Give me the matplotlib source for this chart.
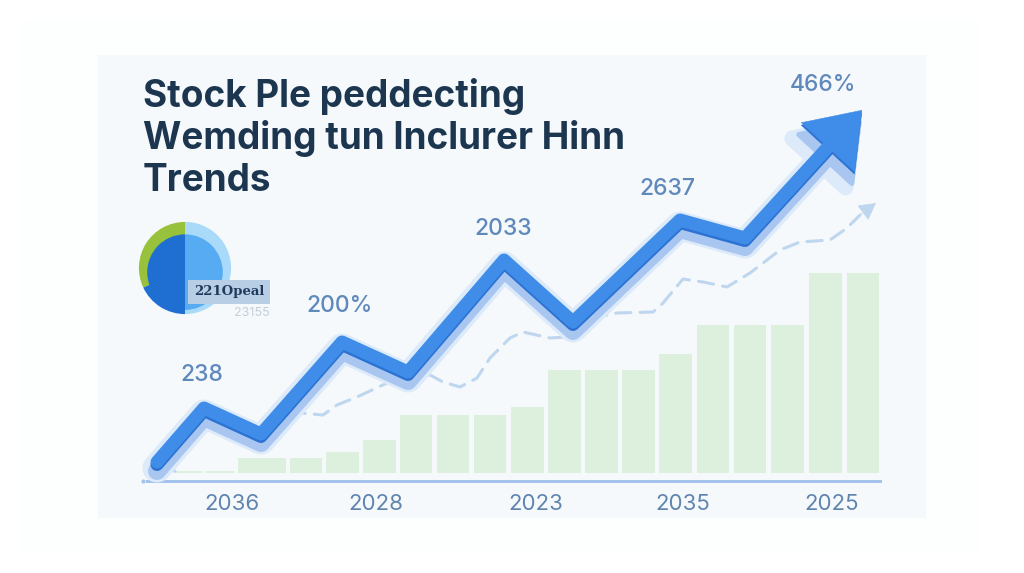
"""Stock trend mock-up: rising arrow line over pale bars, small donut and labels."""

import matplotlib

matplotlib.use("Agg")
import matplotlib.pyplot as plt
import numpy as np
from matplotlib.patches import FancyArrowPatch, Rectangle

TITLE_LINES = ["Stock Ple peddecting", "Wemding tun Inclurer Hinn", "Trends"]

# chart units: one unit is one pixel, x from the panel edge, y from the bar floor
bar_start = [75, 107, 140, 192, 228, 265, 302, 339, 376, 413, 450, 487, 524, 561, 599, 636, 673, 711, 749]
bar_end = [104, 136, 188, 224, 261, 298, 334, 371, 408, 446, 483, 520, 557, 594, 631, 668, 706, 744, 781]
bar_values = [2, 2, 15, 15, 21, 33, 58, 58, 58, 66, 103, 103, 103, 119, 148, 148, 148, 200, 200]

line_x = [59, 106, 163, 244, 310, 406, 475, 582, 647, 730, 764]
line_y = [11, 65, 39, 131, 101, 213, 151, 253, 235, 326, 363]
line_labels = ["238", "200%", "2033", "2637", "466%"]
label_x = [104, 242, 405, 569, 725]
label_y = [98, 167, 244, 284, 388]

# dashed trend: a short stub at the start, then the long run
stub_x = [52, 77]
stub_y = [1, 2]
trend_x = [192, 225, 239, 259, 289, 332, 345, 362, 379, 392, 412, 425, 452, 469, 499, 519, 555, 565, 585, 605,
           629, 652, 682, 702, 732, 749, 762]
trend_y = [61, 58, 68, 76, 90, 98, 91, 86, 95, 115, 135, 141, 135, 136, 156, 160, 161, 170, 194, 191,
           186, 200, 223, 231, 233, 245, 258]

tick_pos = [134, 278, 438, 585, 734]
tick_labels = ["2036", "2028", "2023", "2035", "2025"]

donut_outer = [32, 18, 50]
donut_inner = [50, 50]

plt.rcParams["font.family"] = ["Inter", "DejaVu Sans"]

W, H = 1024, 573
fig = plt.figure(figsize=(W / 100, H / 100), dpi=100, facecolor="white")
PX = 0.72  # points per pixel

# soft outer wash behind the panel
fig.patches.append(Rectangle((20 / W, 20 / H), 960 / W, 533 / H, transform=fig.transFigure,
                             facecolor="#fdfefe", edgecolor="none", zorder=-5))

ax = fig.add_axes([98 / W, 1 - 518 / H, 828 / W, 463 / H], facecolor="#f5f9fc")
ax.set_xlim(0, 828)
ax.set_ylim(-45, 418)

for spine in ("top", "left", "right"):
    ax.spines[spine].set_visible(False)
ax.spines["bottom"].set_position(("data", -8))
ax.spines["bottom"].set_bounds(49, 782)
ax.spines["bottom"].set_color("#a3c3ea")
ax.spines["bottom"].set_linewidth(3 * PX)
ax.set_yticks([])
ax.set_xticks(tick_pos, tick_labels, fontsize=16, color="#5f84ad")
ax.tick_params(axis="x", length=0, pad=9)
ax.plot([45], [-8], "o", ms=2, color="#a3c3ea", clip_on=False)

starts, ends = np.array(bar_start), np.array(bar_end)
ax.bar(starts, bar_values, width=ends - starts, align="edge", color="#ddf0de", zorder=1)

dash = dict(color="#bfd6ef", lw=2.2, ls=(0, (5, 3)), dash_capstyle="round", zorder=2)
ax.plot(stub_x, stub_y, **dash)
ax.plot(trend_x, trend_y, **dash)
ax.add_patch(FancyArrowPatch((trend_x[-1], trend_y[-1]), (778, 270),
                             arrowstyle="-|>,head_length=11,head_width=6", mutation_scale=1,
                             shrinkA=0, shrinkB=0, color="#bfd6ef", lw=0.5, zorder=2))

lx, ly = np.array(line_x, dtype=float), np.array(line_y, dtype=float)


def draw_trend(dy, width_px, color, zorder):
    ax.plot(lx[:-1], ly[:-1] + dy, color=color, lw=width_px * PX, zorder=zorder,
            solid_joinstyle="round", solid_capstyle="round")
    # head goes from the last bend direction to the tip
    head = FancyArrowPatch((lx[-2], ly[-2] + dy), (lx[-1], ly[-1] + dy),
                           arrowstyle="-|>,head_length=36,head_width=26", mutation_scale=1,
                           shrinkA=0, shrinkB=0, facecolor=color, edgecolor=color,
                           lw=max(width_px - 13, 0.5) * PX, joinstyle="round", zorder=zorder)
    ax.add_patch(head)


draw_trend(-6, 29, "#dceafa", 3)
draw_trend(-9, 18, "#a9c6f1", 4)
draw_trend(-2.5, 13, "#2b72d2", 5)
draw_trend(0, 13, "#3f8de8", 6)

for text, x, y in zip(line_labels, label_x, label_y):
    ax.text(x, y, text, ha="center", va="center", fontsize=16.5, fontweight="medium",
            color="#5f89bb", zorder=7)

for i, line in enumerate(TITLE_LINES):
    fig.text(143 / W, 1 - (107 + i * 42) / H, line, fontsize=26.6, fontweight="bold", color="#1d3650")

# donut, drawn in its own small axes
pie_ax = fig.add_axes([138 / W, 1 - 315 / H, 94 / W, 94 / H])
pie_ax.pie(donut_outer, colors=["#98c23c", "#1f6fd2", "#a9dafa"], startangle=90, radius=1.0,
           center=(0, 0), frame=True)
pie_ax.pie(donut_inner, colors=["#1f6fd2", "#56abf2"], startangle=90, radius=0.82,
           center=(0, -0.09), frame=True)
pie_ax.set_xlim(-1.02, 1.02)
pie_ax.set_ylim(-1.02, 1.02)
pie_ax.axis("off")

fig.text(229 / W, 1 - 292 / H, "221Opeal", ha="center", va="center", fontsize=9.5, fontweight="bold",
         family="DejaVu Serif", color="#203a5c",
         bbox=dict(boxstyle="square,pad=0.45", facecolor="#b7cee4", edgecolor="none"), zorder=8)
fig.text(252 / W, 1 - 313 / H, "23155", ha="center", va="center", fontsize=9, color="#c4cfda")

fig.savefig("out.png", dpi=100)
